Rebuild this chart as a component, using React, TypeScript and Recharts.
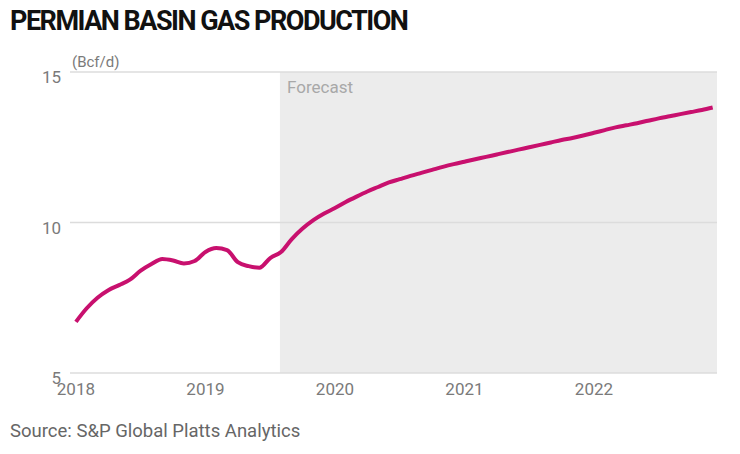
import React from 'react'
import { LineChart, Line, XAxis, YAxis, ReferenceArea, ReferenceLine } from 'recharts'

// months since Jan 2018
const months = Array.from({ length: 60 }, (_, i) => i)
const production = [
  6.70, 7.15, 7.50, 7.75, 7.92, 8.10, 8.40, 8.62, 8.79, 8.74, 8.64, 8.72,
  9.02, 9.15, 9.08, 8.68, 8.55, 8.50, 8.82, 9.02, 9.45, 9.80, 10.08, 10.30,
  10.48, 10.68, 10.86, 11.03, 11.18, 11.33, 11.44, 11.55, 11.65, 11.75, 11.85, 11.94,
  12.02, 12.10, 12.18, 12.26, 12.34, 12.42, 12.50, 12.58, 12.66, 12.74, 12.81, 12.89,
  12.98, 13.07, 13.16, 13.23, 13.30, 13.38, 13.46, 13.53, 13.60, 13.67, 13.74, 13.82,
]
const yearTicks = [0, 12, 24, 36, 48]
const valueTicks = [5, 10, 15]
const forecastStart = 18.9

const data = months.map((m, i) => ({ m, v: production[i] }))

const LINE = '#C8106E'
const GREY = '#7a7a7a'
const FONT = 'Roboto, "Noto Sans", sans-serif'

export default function App() {
  return (
    <div style={{ position: 'absolute', left: 0, top: 0, width: 740, height: 454, background: '#fff', fontFamily: FONT }}>
      <div style={{ position: 'absolute', left: 10, top: 5, fontSize: 27, fontWeight: 700, color: '#111', letterSpacing: -1.5, whiteSpace: 'nowrap' }}>
        PERMIAN BASIN GAS PRODUCTION
      </div>
      <div style={{ position: 'absolute', left: 72, top: 53, fontSize: 15, color: GREY }}>(Bcf/d)</div>
      <LineChart width={740} height={454} data={data} margin={{ top: 72, right: 23, bottom: 51, left: 8 }}>
        <XAxis
          dataKey="m"
          type="number"
          domain={[-0.55, 59.4]}
          ticks={yearTicks}
          tickFormatter={(m: number) => String(2018 + m / 12)}
          axisLine={false}
          tickLine={false}
          height={30}
          tick={{ fill: GREY, fontSize: 17, fontFamily: FONT }}
          tickMargin={4}
        />
        <YAxis
          type="number"
          domain={[5, 15]}
          ticks={valueTicks}
          axisLine={false}
          tickLine={false}
          width={62}
          tick={{ fill: GREY, fontSize: 17, fontFamily: FONT, dy: 5 }}
          tickMargin={3}
        />
        <ReferenceArea x1={forecastStart} x2={59.4} y1={5} y2={15} fill="#ececec" fillOpacity={1} stroke="none" ifOverflow="hidden" />
        {valueTicks.map(t => (
          <ReferenceLine key={t} y={t} stroke="#dcdcdc" strokeWidth={1.5} />
        ))}
        <Line
          dataKey="v"
          type="monotone"
          stroke={LINE}
          strokeWidth={4}
          dot={false}
          isAnimationActive={false}
        />
      </LineChart>
      <div style={{ position: 'absolute', left: 287, top: 77, fontSize: 17, color: '#a8a8a8' }}>Forecast</div>
      <div style={{ position: 'absolute', left: 10, top: 420, fontSize: 18.5, color: '#666', whiteSpace: 'nowrap' }}>
        Source: S&amp;P Global Platts Analytics
      </div>
    </div>
  )
}
